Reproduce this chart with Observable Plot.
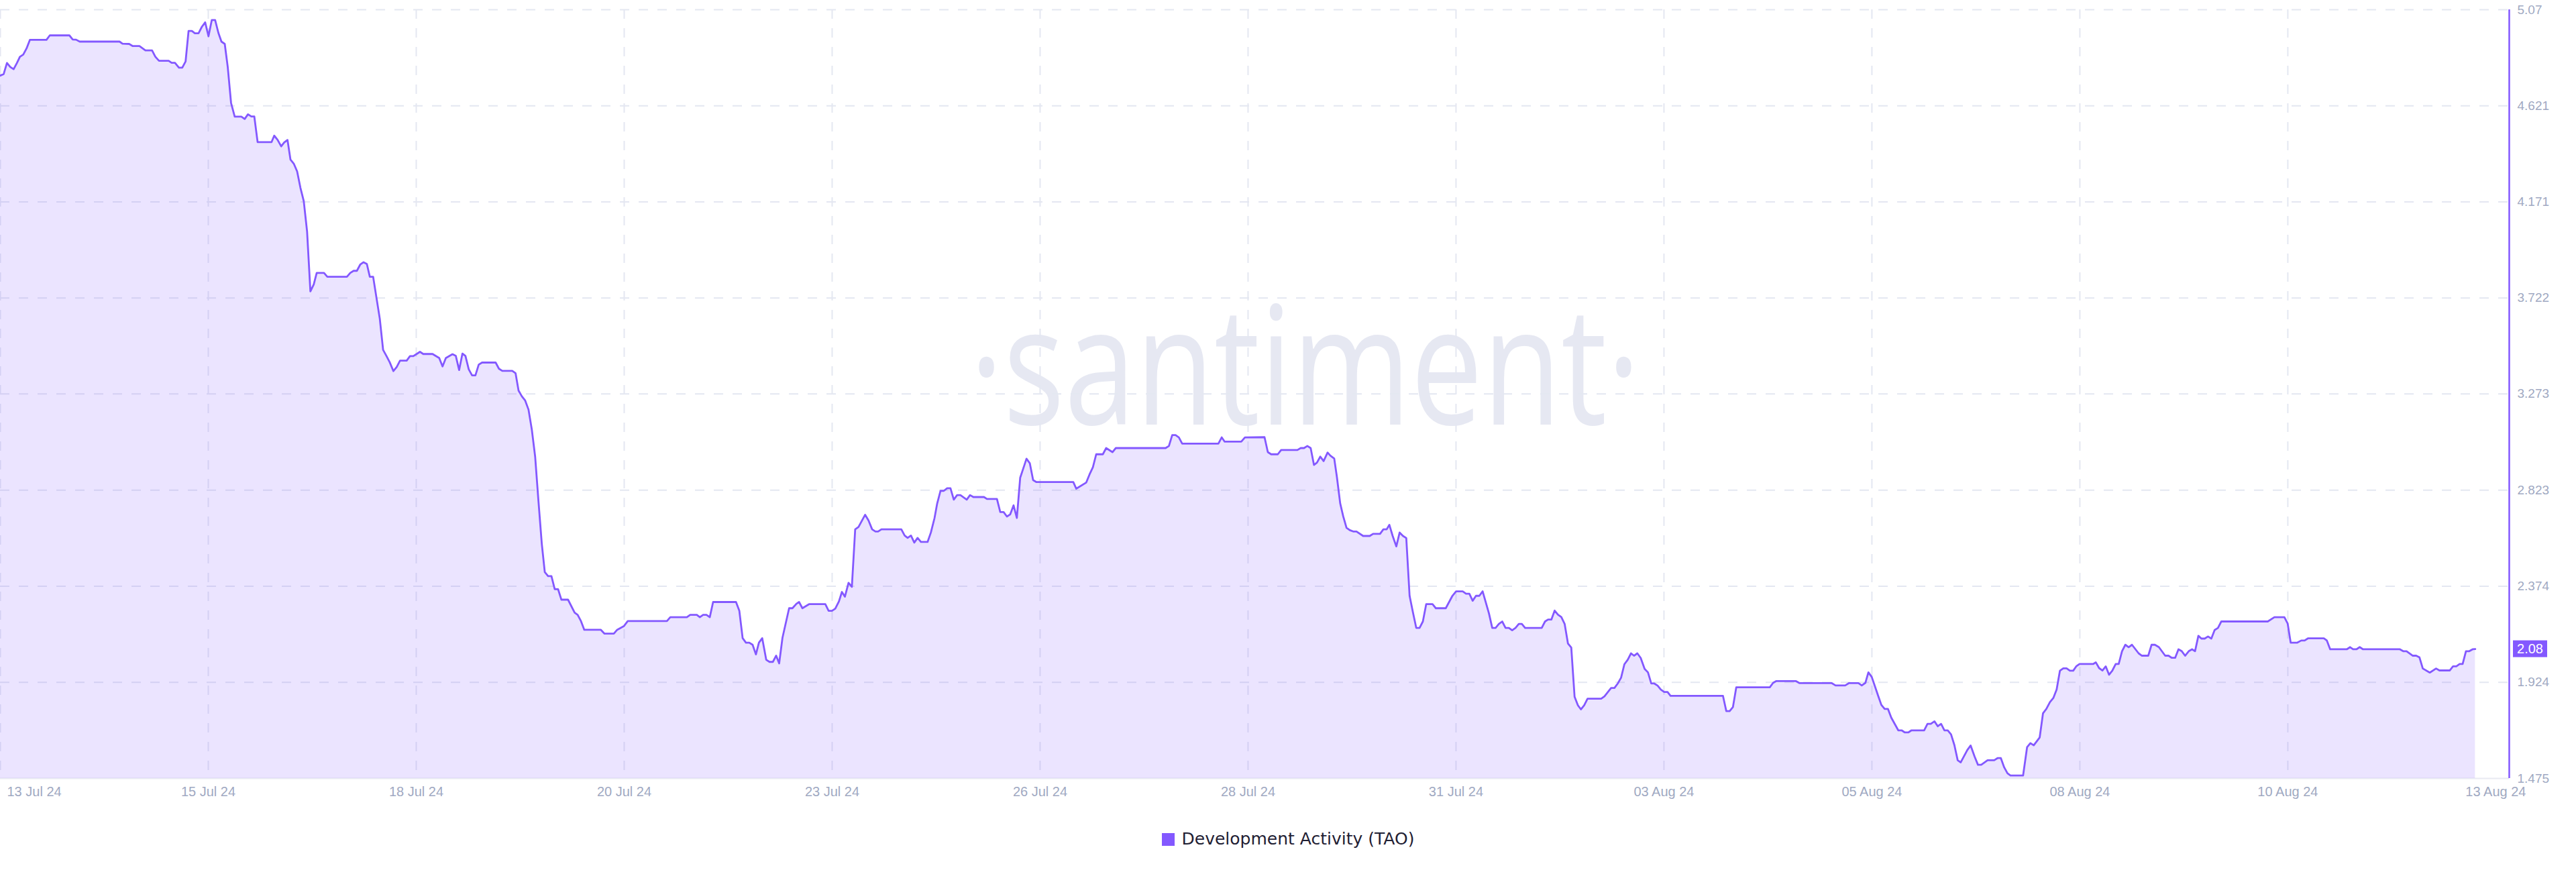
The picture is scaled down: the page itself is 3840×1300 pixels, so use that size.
<!DOCTYPE html>
<html><head><meta charset="utf-8">
<script src="https://cdn.jsdelivr.net/npm/d3@7"></script>
<script src="https://cdn.jsdelivr.net/npm/@observablehq/plot@0.6"></script>
<style>
html,body{margin:0;padding:0;background:#fff;width:3840px;height:1300px;overflow:hidden;}
#chart{position:absolute;left:0;top:0;}
#legend{position:absolute;left:0;top:1237px;width:3840px;display:flex;justify-content:center;align-items:center;gap:11px;font-family:"DejaVu Sans",sans-serif;font-size:25px;color:#1f2033;line-height:28px}
#legend .sw{width:19px;height:19px;background:#8358ff;display:inline-block}
</style></head><body>
<div id="chart"></div>
<div id="legend"><span class="sw"></span><span id="legendText"></span></div>
<script>
// hours since 2024-07-13 00:00 UTC, Development Activity value
const series = [
[3.6,4.762],[4.6,4.769],[5.6,4.821],[6.6,4.802],[7.6,4.792],[8.6,4.821],[9.5,4.850],[10.5,4.860],[11.5,4.889],[12.5,4.929],
[17.5,4.929],[18.5,4.950],[24.4,4.950],[25.4,4.931],[26.4,4.930],[27.5,4.921],[39.5,4.921],[40.4,4.911],[42.4,4.910],[43.5,4.900],
[45.5,4.900],[47.3,4.880],[49.3,4.880],[50.3,4.850],[51.4,4.831],[54.3,4.831],[55.2,4.822],[56.2,4.822],[57.4,4.799],[58.4,4.799],
[59.4,4.828],[60.3,4.971],[61.3,4.971],[62.2,4.960],[63.3,4.960],[64.3,4.990],[65.3,5.011],[66.3,4.946],[67.3,5.022],[68.3,5.022],
[69.3,4.961],[70.2,4.921],[71.2,4.910],[72.1,4.802],[73.1,4.634],[74.2,4.570],[76.2,4.570],[77.2,4.559],[78.2,4.581],[79.2,4.571],
[80.1,4.571],[81.1,4.451],[85.3,4.451],[86.1,4.481],[87.1,4.462],[88.2,4.431],[89.1,4.449],[90.1,4.461],[91.0,4.369],[92.0,4.350],
[93.0,4.314],[94.0,4.237],[95.0,4.175],[96.0,4.033],[97.0,3.753],[98.0,3.785],[98.9,3.839],[101.1,3.839],[102.1,3.821],[108.0,3.821],
[109.0,3.839],[110.0,3.849],[111.0,3.849],[112.0,3.878],[113.0,3.889],[114.0,3.881],[114.9,3.821],[115.9,3.821],[117.9,3.625],[118.9,3.479],
[119.9,3.451],[120.9,3.421],[122.0,3.380],[123.0,3.399],[124.0,3.429],[126.0,3.429],[127.0,3.450],[128.0,3.450],[129.0,3.460],[130.0,3.470],
[131.0,3.460],[133.8,3.460],[135.8,3.441],[136.8,3.402],[137.8,3.441],[139.8,3.459],[140.8,3.451],[141.8,3.385],[142.8,3.462],[143.7,3.451],
[144.7,3.388],[145.7,3.360],[146.7,3.360],[147.7,3.410],[148.7,3.420],[152.8,3.420],[153.8,3.391],[154.8,3.381],[157.8,3.381],[158.8,3.370],
[159.7,3.289],[160.7,3.262],[161.7,3.242],[162.7,3.200],[163.7,3.106],[164.7,2.980],[165.7,2.771],[166.7,2.572],[167.6,2.440],[168.6,2.421],
[169.6,2.421],[170.6,2.360],[171.6,2.360],[172.6,2.311],[174.6,2.311],[176.6,2.250],[177.5,2.240],[178.5,2.211],[179.5,2.170],[184.5,2.170],
[185.6,2.152],[188.4,2.152],[189.4,2.170],[191.4,2.187],[192.6,2.211],[204.4,2.211],[205.4,2.229],[210.4,2.229],[211.4,2.240],[213.4,2.240],
[214.3,2.229],[215.3,2.240],[216.3,2.240],[217.3,2.229],[218.3,2.300],[225.2,2.300],[226.2,2.259],[227.2,2.131],[228.2,2.110],[229.2,2.110],
[230.2,2.100],[231.2,2.055],[232.1,2.110],[233.1,2.131],[234.3,2.030],[235.3,2.020],[236.3,2.020],[237.3,2.049],[238.2,2.013],[239.2,2.133],
[241.2,2.271],[242.2,2.271],[243.4,2.292],[244.2,2.300],[245.2,2.271],[247.2,2.290],[252.1,2.290],[253.1,2.259],[254.1,2.259],[255.1,2.269],
[256.2,2.303],[257.1,2.347],[258.0,2.325],[259.1,2.390],[260.1,2.371],[261.1,2.640],[262.1,2.651],[264.1,2.708],[265.1,2.682],[266.2,2.640],
[267.2,2.630],[268.0,2.630],[269.0,2.640],[275.0,2.640],[276.0,2.611],[276.9,2.600],[277.9,2.611],[278.9,2.578],[279.9,2.600],[280.9,2.581],
[282.9,2.581],[283.9,2.625],[285.0,2.693],[285.8,2.761],[286.8,2.820],[287.8,2.820],[288.8,2.832],[289.8,2.832],[290.8,2.779],[291.8,2.800],
[292.8,2.800],[294.7,2.779],[295.7,2.800],[296.7,2.791],[299.9,2.791],[300.8,2.782],[303.8,2.782],[304.8,2.721],[305.8,2.721],[306.8,2.700],
[307.8,2.710],[308.8,2.752],[309.8,2.693],[310.8,2.881],[311.7,2.923],[312.7,2.970],[313.7,2.949],[314.7,2.870],[315.7,2.861],[326.8,2.861],
[327.7,2.830],[330.7,2.859],[331.7,2.897],[332.7,2.930],[333.7,2.991],[335.7,2.991],[336.7,3.020],[338.6,3.001],[339.6,3.020],[354.6,3.020],
[355.6,3.030],[356.6,3.081],[357.6,3.081],[358.6,3.070],[359.6,3.041],[370.5,3.041],[371.5,3.070],[372.4,3.050],[377.4,3.050],[378.5,3.070],
[384.4,3.071],[385.4,3.001],[386.4,2.991],[388.4,2.991],[389.4,3.011],[394.3,3.011],[395.3,3.020],[396.3,3.020],[397.3,3.030],[398.3,3.020],
[399.3,2.941],[400.2,2.952],[401.2,2.980],[402.2,2.959],[403.4,2.999],[404.2,2.985],[405.4,2.971],[406.2,2.885],[407.2,2.761],[408.1,2.701],
[409.1,2.647],[410.1,2.636],[411.1,2.630],[412.1,2.630],[414.1,2.609],[416.1,2.609],[417.1,2.619],[419.2,2.619],[420.2,2.640],[421.2,2.640],
[422.0,2.661],[423.0,2.609],[424.1,2.560],[425.1,2.625],[426.1,2.609],[427.1,2.599],[428.1,2.329],[429.1,2.252],[430.1,2.179],[431.1,2.179],
[432.1,2.209],[433.1,2.290],[435.0,2.290],[436.0,2.271],[439.0,2.271],[441.0,2.329],[442.1,2.350],[444.1,2.350],[445.1,2.339],[446.1,2.339],
[447.1,2.306],[448.1,2.329],[449.1,2.329],[450.1,2.350],[452.0,2.247],[453.0,2.179],[454.0,2.179],[455.0,2.198],[456.0,2.209],[457.0,2.179],
[458.0,2.179],[459.0,2.168],[460.0,2.179],[461.0,2.198],[461.9,2.198],[462.9,2.179],[467.9,2.179],[468.9,2.209],[469.8,2.218],[470.8,2.218],
[471.8,2.260],[472.8,2.241],[473.8,2.230],[474.8,2.198],[475.8,2.106],[476.8,2.087],[477.8,1.857],[478.8,1.817],[479.7,1.798],[480.7,1.817],
[481.7,1.848],[485.8,1.848],[486.8,1.859],[488.8,1.898],[489.8,1.898],[490.8,1.919],[491.8,1.946],[492.8,2.009],[493.8,2.030],[494.8,2.060],
[495.7,2.049],[496.7,2.060],[497.7,2.039],[498.9,1.987],[499.9,1.971],[500.9,1.919],[501.8,1.919],[502.8,1.909],[503.8,1.890],[504.8,1.879],
[505.8,1.879],[506.7,1.861],[522.5,1.861],[523.5,1.790],[524.5,1.790],[525.5,1.809],[526.5,1.901],[536.6,1.901],[537.6,1.922],[538.5,1.930],
[544.5,1.930],[545.5,1.921],[555.2,1.921],[556.4,1.910],[559.3,1.910],[560.5,1.921],[563.3,1.921],[564.3,1.910],[565.4,1.922],[566.3,1.971],
[567.3,1.950],[568.2,1.909],[569.2,1.863],[570.2,1.819],[571.2,1.800],[572.2,1.800],[573.2,1.759],[575.3,1.700],[576.3,1.700],[577.3,1.690],
[578.3,1.690],[579.3,1.700],[583.1,1.700],[584.1,1.730],[585.1,1.730],[586.2,1.742],[587.2,1.719],[588.2,1.730],[589.2,1.700],[590.2,1.700],
[591.2,1.681],[592.2,1.631],[593.2,1.560],[594.1,1.550],[596.1,1.608],[597.1,1.629],[598.3,1.577],[599.3,1.539],[600.3,1.539],[602.2,1.560],
[604.2,1.560],[605.2,1.570],[606.2,1.570],[607.2,1.527],[608.2,1.499],[609.1,1.489],[612.9,1.489],[614.1,1.621],[615.1,1.640],[616.1,1.630],
[617.9,1.667],[618.9,1.780],[619.9,1.800],[621.0,1.832],[622.0,1.851],[623.0,1.891],[624.0,1.979],[625.0,1.990],[626.0,1.990],[627.0,1.979],
[628.0,1.979],[628.9,1.999],[629.9,2.010],[634.0,2.010],[634.8,2.018],[635.8,1.991],[636.8,1.980],[637.8,1.999],[638.8,1.960],[639.8,1.980],
[640.8,2.010],[641.7,2.010],[642.7,2.070],[643.7,2.100],[644.7,2.089],[645.7,2.100],[647.7,2.060],[648.7,2.049],[650.6,2.049],[651.6,2.100],
[652.6,2.100],[653.8,2.089],[655.7,2.049],[656.7,2.049],[657.7,2.039],[658.7,2.039],[659.7,2.079],[660.7,2.070],[661.7,2.049],[662.8,2.070],
[663.8,2.079],[664.7,2.070],[665.7,2.142],[666.6,2.129],[667.6,2.129],[668.6,2.139],[669.6,2.129],[670.6,2.169],[671.6,2.179],[672.6,2.209],
[686.6,2.209],[688.6,2.229],[691.6,2.229],[692.6,2.199],[693.5,2.110],[695.5,2.110],[696.7,2.120],[697.7,2.120],[698.7,2.130],[703.5,2.130],
[704.4,2.120],[705.4,2.079],[710.4,2.079],[711.4,2.089],[712.3,2.079],[713.3,2.079],[714.3,2.089],[715.3,2.079],[726.4,2.079],[727.4,2.070],
[728.4,2.070],[730.3,2.049],[731.3,2.049],[732.3,2.041],[733.3,1.989],[735.4,1.970],[737.3,1.989],[738.3,1.980],[741.4,1.980],[742.4,1.999],
[743.4,1.999],[744.4,2.010],[745.3,2.010],[746.3,2.070],[747.3,2.070],[748.3,2.079],[749.1,2.080]
];
const yTicks = [1.475, 1.924, 2.374, 2.823, 3.273, 3.722, 4.171, 4.621, 5.07];
const tickHours = [3.6, 66.24, 128.88, 191.52, 254.16, 316.8, 379.44, 442.08, 504.72, 567.36, 630, 692.64, 755.28];
const tickLabels = ["13 Jul 24","15 Jul 24","18 Jul 24","20 Jul 24","23 Jul 24","26 Jul 24","28 Jul 24","31 Jul 24","03 Aug 24","05 Aug 24","08 Aug 24","10 Aug 24","13 Aug 24"];
const xDomain = [3.6, 759.34];
const seriesName = "Development Activity (TAO)";
const watermark = "·santiment·";
const lastValue = series[series.length - 1][1];

const purple = "#8358ff";
const gridColor = "#e4e7f1";
const labelColor = "#a0a9c2";
const data = series.map(([h, v]) => ({h, v}));

function badge(value) {
  return (index, scales, values, dimensions) => {
    const y = scales.y(value);
    const x0 = dimensions.width - dimensions.marginRight + 6;
    const g = d3.create("svg:g");
    g.append("rect").attr("x", x0).attr("y", y - 12.5).attr("width", 51).attr("height", 25).attr("fill", purple);
    g.append("text").attr("x", x0 + 25.5).attr("y", y).attr("dy", "0.36em").attr("text-anchor", "middle")
      .attr("fill", "#fff").attr("font-size", 20).attr("font-family", "'Liberation Sans', Arial, sans-serif").text(value.toFixed(2));
    return g.node();
  };
}

const chart = Plot.plot({
  width: 3840, height: 1205,
  marginLeft: 0, marginRight: 100, marginTop: 14, marginBottom: 45,
  x: {type: "linear", domain: xDomain},
  y: {domain: [yTicks[0], yTicks[yTicks.length - 1]]},
  style: {fontFamily: "'Liberation Sans', Arial, sans-serif", background: "transparent", overflow: "visible"},
  marks: [
    Plot.text([watermark], {frameAnchor: "middle", text: d => d, dx: 75, dy: -33, fontSize: 245, fill: "#e6e8f2", fontFamily: "'Open Sans', sans-serif"}),
    Plot.gridX(tickHours.slice(0, 12), {stroke: gridColor, strokeOpacity: 1, strokeWidth: 2, strokeDasharray: "14,14"}),
    Plot.gridY(yTicks.slice(1), {stroke: gridColor, strokeOpacity: 1, strokeWidth: 2, strokeDasharray: "14,14"}),
    Plot.ruleY([yTicks[0]], {stroke: "#e8eaf2", strokeWidth: 2}),
    Plot.areaY(data, {x: "h", y1: () => yTicks[0], y2: "v", fill: purple, fillOpacity: 0.16}),
    Plot.lineY(data, {x: "h", y: "v", stroke: purple, strokeWidth: 2.8}),
    Plot.ruleX([xDomain[1]], {stroke: purple, strokeWidth: 2.5}),
    Plot.axisY(yTicks, {anchor: "right", label: null, tickSize: 0, tickPadding: 12, tickFormat: d => String(d), fontSize: 19, color: labelColor}),
    Plot.axisX(tickHours.slice(1), {anchor: "bottom", label: null, tickSize: 0, tickPadding: 12, tickFormat: d => tickLabels[tickHours.indexOf(d)], fontSize: 20, color: labelColor}),
    Plot.text([0], {x: i => tickHours[i], text: i => tickLabels[i], frameAnchor: "bottom", lineAnchor: "top", dy: 12, dx: 10, textAnchor: "start", fontSize: 20, fill: labelColor}),
    badge(lastValue)
  ]
});
document.getElementById("chart").appendChild(chart);
for (const t of chart.querySelectorAll("text")) {
  if (t.textContent === watermark) { t.setAttribute("textLength", 1000); t.setAttribute("lengthAdjust", "spacingAndGlyphs"); }
}
document.getElementById("legendText").textContent = seriesName;
</script>
</body></html>
